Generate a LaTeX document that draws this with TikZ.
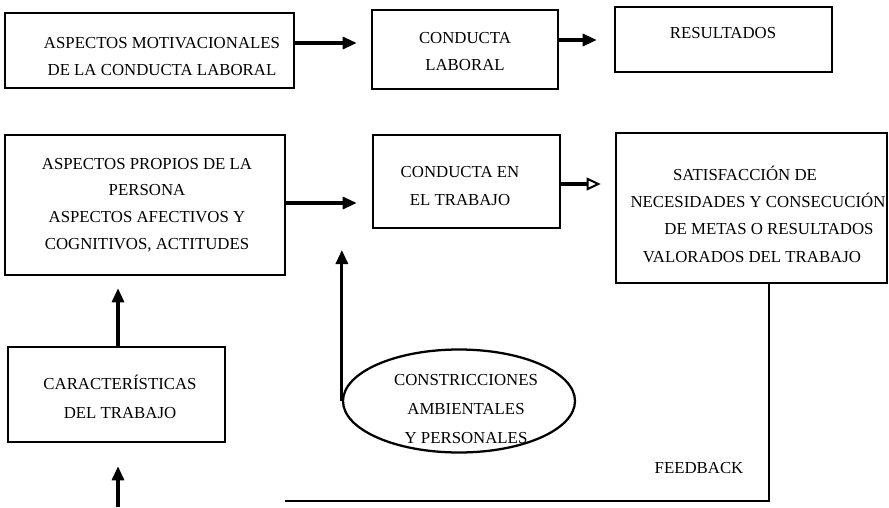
\documentclass[tikz,border=0pt]{standalone}
\usepackage{fontspec}
\setmainfont{Liberation Serif}
\usetikzlibrary{arrows.meta,shapes.geometric}
\begin{document}
\begin{tikzpicture}[x=0.75pt,y=-0.75pt,
  box/.style={draw,line width=1.9pt,rectangle,inner sep=0pt},
  oval/.style={draw,line width=1.7pt,ellipse,inner sep=0pt},
  txt/.style={align=center,inner sep=0pt,font=\fontsize{12.6}{#1}\selectfont},
  txt/.default={20.25},
  arr/.style={line width=2.3pt,-{Triangle[length=10.5pt,width=9pt]}},
  arropen/.style={line width=2.3pt,-{Triangle[open,length=10.5pt,width=9.5pt,line width=1.5pt]}},
  fb/.style={line width=2.2pt}]
% canvas
\path[use as bounding box,fill=white] (0,0) rectangle (889,507);

% top row
\node[box,minimum width=216.75pt,minimum height=56.25pt] (b1) at (149.5,50.5) {};
\node[txt] (t1) at (162,56.5) {ASPECTOS MOTIVACIONALES\\DE LA CONDUCTA LABORAL};
\node[box,minimum width=139.5pt,minimum height=59.25pt] (b2) at (465,49.5) {};
\node[txt] (t2) at (465,51.5) {CONDUCTA\\LABORAL};
\node[box,minimum width=162.75pt,minimum height=48.75pt] (b3) at (723.5,39.5) {};
\node[txt] (t3) at (723,33) {RESULTADOS};

% middle row
\node[box,minimum width=210pt,minimum height=105pt] (b4) at (145,205) {};
\node[txt=20pt] (t4) at (147,205) {ASPECTOS PROPIOS DE LA\\PERSONA\hspace*{13.5pt}\\ASPECTOS AFECTIVOS Y\\COGNITIVOS, ACTITUDES};
\node[box,minimum width=140.25pt,minimum height=69.75pt] (b5) at (466.5,181.5) {};
\node[txt=21pt] (t5) at (460,186) {CONDUCTA EN\\EL TRABAJO};
\node[box,minimum width=203.25pt,minimum height=112.5pt] (b6) at (751.5,208) {};
\node[txt=20.5pt] (t6) at (758,214) {SATISFACCIÓN DE\hspace*{19.5pt}\\NECESIDADES Y CONSECUCIÓN\\\hspace*{16.5pt}DE METAS O RESULTADOS\\VALORADOS DEL TRABAJO\hspace*{9pt}};

% bottom row
\node[box,minimum width=162.75pt,minimum height=71.25pt] (b7) at (116.5,394.5) {};
\node[txt=21.75pt] (t7) at (120,397) {CARACTERÍSTICAS\\DEL TRABAJO};
\node[oval,minimum width=174pt,minimum height=77.25pt] (ell) at (459,401) {};
\node[txt=21.4pt] (t8) at (466,409) {CONSTRICCIONES\\AMBIENTALES\\Y PERSONALES};
\node[txt] (fbl) at (699,468) {FEEDBACK};

% connectors
\draw[arr,shorten >=10.5pt] (b1.east |- 0,43) -- (b2.west |- 0,43);
\draw[arr,shorten >=12.75pt] (b2.east |- 0,40) -- (b3.west |- 0,40);
\draw[arr,shorten >=11.25pt] (b4.east |- 0,203) -- (b5.west |- 0,203);
\draw[arropen,shorten >=10.5pt] (b5.east |- 0,184) -- (b6.west |- 0,184);
\draw[arr,shorten >=9pt] (b7.north -| 118,0) -- (b4.south -| 118,0);

\coordinate (cTip) at (345,250);
\draw[arr] (ell.west) -- (ell.west |- cTip);

% feedback loop
\coordinate (fbC) at (769,501);
\coordinate (fbL) at (285,501);
\coordinate (fbUp) at (118,507);
\draw[fb] (b6.south -| fbC) -- (fbC) -- (fbL);
\draw[arr,shorten >=17.25pt] (fbUp) -- (b7.south -| fbUp);
\end{tikzpicture}
\end{document}
